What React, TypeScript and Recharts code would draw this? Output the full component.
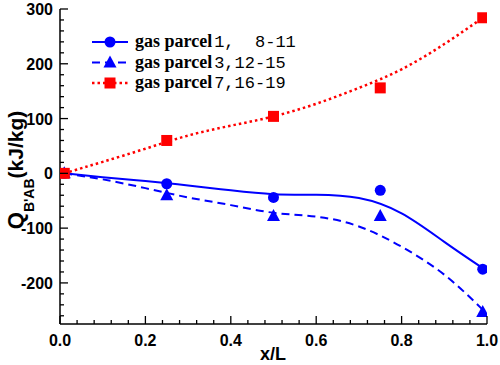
import { ComposedChart, Line, Scatter, XAxis, YAxis, Legend } from "recharts";

// measured points (markers)
const markerX = [0.01, 0.25, 0.5, 0.75, 0.99];
const parcel1Points = [0, -19, -44, -31, -175];
const parcel3Points = [0, -40, -78, -78, -253];
const parcel7Points = [0, 60, 104, 156, 284];

// fitted curves
const fitX = [0.01, 0.1, 0.2, 0.3, 0.4, 0.5, 0.6, 0.7, 0.8, 0.9, 0.99];
const parcel1Fit = [0, -7, -14, -22, -31, -38, -39, -45, -73, -125, -173];
const parcel3Fit = [0, -11, -27, -44, -58, -72, -79, -97, -134, -185, -249];
const parcel7Fit = [0, 21, 45, 69, 87, 104, 127, 156, 190, 236, 284];

const legendLabels = ["gas parcel 1,  8-11", "gas parcel 3,12-15", "gas parcel 7,16-19"];

const xTicks = [
  0, 0.04, 0.08, 0.12, 0.16, 0.2, 0.24, 0.28, 0.32, 0.36, 0.4, 0.44, 0.48,
  0.52, 0.56, 0.6, 0.64, 0.68, 0.72, 0.76, 0.8, 0.84, 0.88, 0.92, 0.96, 1.0,
];
const yTicks = [
  -260, -240, -220, -200, -180, -160, -140, -120, -100, -80, -60, -40, -20,
  0, 20, 40, 60, 80, 100, 120, 140, 160, 180, 200, 220, 240, 260, 280, 300,
];

const BLUE = "#0000FF";
const RED = "#FF0000";

const toRows = (xs: number[], ys: number[]) => xs.map((x, i) => ({ x, y: ys[i] }));

const tickFont = {
  fontFamily: "'Liberation Sans', Arial, sans-serif",
  fontWeight: 700,
  fontSize: 16,
  fill: "#000",
};

const isMajorX = (v: number) => Math.abs(v * 5 - Math.round(v * 5)) < 1e-6;
const isMajorY = (v: number) => Math.abs(v % 100) < 1e-6;

const BottomTick = (props: any) => {
  const { x, y, payload } = props;
  const major = isMajorX(payload.value);
  return (
    <g>
      <line x1={x} y1={y} x2={x} y2={y - (major ? 8 : 4)} stroke="#000" strokeWidth={1.3} />
      {major && (
        <text x={x} y={y + 22} textAnchor="middle" style={tickFont}>
          {payload.value.toFixed(1)}
        </text>
      )}
    </g>
  );
};

const TopTick = (props: any) => {
  const { x, y, payload } = props;
  const major = isMajorX(payload.value);
  return <line x1={x} y1={y} x2={x} y2={y + (major ? 8 : 4)} stroke="#000" strokeWidth={1.3} />;
};

const LeftTick = (props: any) => {
  const { x, y, payload } = props;
  const major = isMajorY(payload.value);
  return (
    <g>
      <line x1={x} y1={y} x2={x + (major ? 8 : 4)} y2={y} stroke="#000" strokeWidth={1.3} />
      {major && (
        <text x={x - 7} y={y + 6} textAnchor="end" style={tickFont}>
          {payload.value}
        </text>
      )}
    </g>
  );
};

const RightTick = (props: any) => {
  const { x, y, payload } = props;
  const major = isMajorY(payload.value);
  return <line x1={x} y1={y} x2={x - (major ? 8 : 4)} y2={y} stroke="#000" strokeWidth={1.3} />;
};

const CircleDot = (props: any) => <circle cx={props.cx} cy={props.cy} r={5.5} fill={BLUE} />;
const TriangleDot = (props: any) => {
  const { cx, cy } = props;
  return <polygon points={`${cx},${cy - 7} ${cx - 6.5},${cy + 5} ${cx + 6.5},${cy + 5}`} fill={BLUE} />;
};
const SquareDot = (props: any) => (
  <rect x={props.cx - 5.5} y={props.cy - 5.5} width={11} height={11} fill={RED} />
);

const seriesStyle = [
  { color: BLUE, dash: undefined, width: 2, Dot: CircleDot },
  { color: BLUE, dash: "8 5", width: 2, Dot: TriangleDot },
  { color: RED, dash: "2.5 3", width: 2.5, Dot: SquareDot },
];

const renderLegend = () => (
  <svg width={320} height={100} style={{ position: "absolute", left: 0, top: 0 }}>
    {legendLabels.map((label, i) => {
      const s = seriesStyle[i];
      const cy = 42 + i * 20.5;
      const m = label.match(/^(\D+?)\s(\d.*)$/);
      const Dot = s.Dot;
      return (
        <g key={label}>
          <line x1={92} y1={cy} x2={128} y2={cy} stroke={s.color} strokeWidth={s.width} strokeDasharray={s.dash} />
          <Dot cx={110} cy={cy} />
          <text x={135} y={cy + 5} fill="#000">
            <tspan style={{ fontFamily: "'Liberation Serif', serif", fontWeight: 700, fontSize: 18 }}>
              {m ? m[1] : label}
            </tspan>
            <tspan dx={2} style={{ fontFamily: "'Liberation Mono', monospace", fontSize: 17, whiteSpace: "pre" }}>
              {m ? m[2] : ""}
            </tspan>
          </text>
        </g>
      );
    })}
  </svg>
);

const renderYLabel = () => (
  <text
    x={23}
    y={170}
    transform="rotate(-90 23 170)"
    textAnchor="middle"
    style={{ fontFamily: "'Liberation Sans', Arial, sans-serif", fontWeight: 700, fill: "#000" }}
  >
    <tspan fontSize={22}>Q</tspan>
    <tspan fontSize={14} dy={11}>B'AB</tspan>
    <tspan fontSize={21} dy={-11}>(kJ/kg)</tspan>
  </text>
);

const renderXLabel = () => (
  <text
    x={273}
    y={360}
    textAnchor="middle"
    style={{ fontFamily: "'Liberation Sans', Arial, sans-serif", fontWeight: 700, fontSize: 18, fill: "#000" }}
  >
    x/L
  </text>
);

export default function App() {
  const fits = [parcel1Fit, parcel3Fit, parcel7Fit].map((ys) => toRows(fitX, ys));
  const points = [parcel1Points, parcel3Points, parcel7Points].map((ys) => toRows(markerX, ys));
  const axisLine = { stroke: "#000", strokeWidth: 1.5 };

  return (
    <div style={{ position: "absolute", left: 0, top: 0, background: "#fff" }}>
      <ComposedChart width={500} height={365} margin={{ top: 9, right: 13, bottom: 0, left: 0 }}>
        <XAxis
          dataKey="x"
          type="number"
          domain={[0, 1]}
          allowDataOverflow
          ticks={xTicks}
          interval={0}
          tickSize={0}
          tickMargin={0}
          tickLine={false}
          tick={BottomTick}
          axisLine={axisLine}
          height={41}
          label={renderXLabel}
        />
        <XAxis
          xAxisId="top"
          orientation="top"
          type="number"
          domain={[0, 1]}
          allowDataOverflow
          ticks={xTicks}
          interval={0}
          tickSize={0}
          tickMargin={0}
          tickLine={false}
          tick={TopTick}
          axisLine={axisLine}
          height={0}
        />
        <YAxis
          dataKey="y"
          type="number"
          domain={[-275, 300]}
          allowDataOverflow
          ticks={yTicks}
          interval={0}
          tickSize={0}
          tickMargin={0}
          tickLine={false}
          tick={LeftTick}
          axisLine={axisLine}
          width={60}
          label={renderYLabel}
        />
        <YAxis
          yAxisId="right"
          orientation="right"
          type="number"
          domain={[-275, 300]}
          allowDataOverflow
          ticks={yTicks}
          interval={0}
          tickSize={0}
          tickMargin={0}
          tickLine={false}
          tick={RightTick}
          axisLine={axisLine}
          width={0}
        />
        {fits.map((rows, i) => (
          <Line
            key={`fit-${i}`}
            data={rows}
            dataKey="y"
            type="natural"
            stroke={seriesStyle[i].color}
            strokeWidth={seriesStyle[i].width}
            strokeDasharray={seriesStyle[i].dash}
            dot={false}
            activeDot={false}
            isAnimationActive={false}
          />
        ))}
        {points.map((rows, i) => (
          <Scatter
            key={`pts-${i}`}
            data={rows}
            dataKey="y"
            shape={seriesStyle[i].Dot}
            isAnimationActive={false}
          />
        ))}
        <Legend
          content={renderLegend}
          layout="horizontal"
          verticalAlign="middle"
          align="center"
          wrapperStyle={{ top: 0, left: 0, width: 320, height: 100 }}
        />
      </ComposedChart>
    </div>
  );
}
